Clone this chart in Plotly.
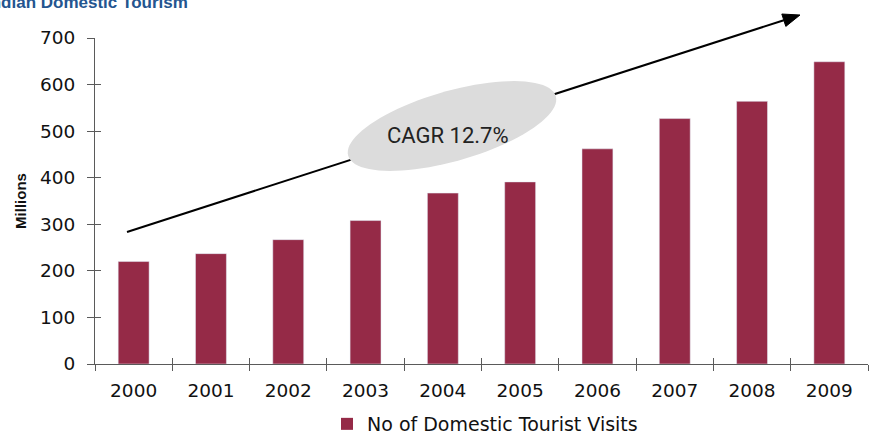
import numpy as np
import plotly.graph_objects as go

# Domestic tourist visits in India (millions)
years = ["2000", "2001", "2002", "2003", "2004", "2005", "2006", "2007", "2008", "2009"]
visits = [220, 237, 267, 308, 367, 391, 462, 527, 564, 649]
y_ticks = [0, 100, 200, 300, 400, 500, 600, 700]
series_name = "No of Domestic Tourist Visits"
cagr_label = "CAGR 12.7%"
title_text = "Indian Domestic Tourism"

W, H = 874, 434
ML, MR, MT, MB = 95, 6, 38, 70
PW, PH = W - ML - MR, H - MT - MB

BAR = "#952A47"
AXIS = "#5a5a5a"
FONT = "Liberation Sans, Arial, sans-serif"
WIDE = "DejaVu Sans, Liberation Sans, sans-serif"


def px(x):
    return (x - ML) / PW


def py(y):
    return 1 - (y - MT) / PH


fig = go.Figure()
fig.add_trace(go.Bar(
    x=years, y=visits, name=series_name, marker_color=BAR,
    marker_line_width=0, width=0.4, showlegend=True,
))
# companion trace for the second (inside-tick) axis pair
fig.add_trace(go.Bar(
    x=years, y=visits, xaxis="x2", yaxis="y2", marker_color="rgba(0,0,0,0)",
    width=0.4, showlegend=False, hoverinfo="skip",
))

axis_common = dict(showgrid=False, zeroline=False, tickcolor=AXIS, tickwidth=1,
                   automargin=False)

fig.update_layout(
    width=W, height=H,
    margin=dict(l=ML, r=MR, t=MT, b=MB, autoexpand=False),
    paper_bgcolor="white", plot_bgcolor="white",
    font=dict(family=WIDE, size=17, color="#111"),
    bargap=0.6,
    xaxis=dict(
        type="category", showline=True, linecolor=AXIS, linewidth=1,
        ticks="outside", ticklen=6, tickson="boundaries",
        ticklabelstandoff=10, tickfont=dict(family=WIDE, size=18.5, color="#111"),
        **axis_common,
    ),
    yaxis=dict(
        range=[0, 700], tickvals=y_ticks, showline=True, linecolor=AXIS,
        linewidth=1, ticks="outside", ticklen=7, ticklabelstandoff=8,
        tickfont=dict(family=WIDE, size=18.5, color="#111"),
        title=dict(text="<b>Millions</b>", font=dict(family=FONT, size=15, color="#111"),
                   standoff=9),
        **axis_common,
    ),
    xaxis2=dict(
        type="category", overlaying="x", anchor="y2", side="bottom",
        showline=False, ticks="inside", ticklen=6, tickson="boundaries",
        showticklabels=False, **axis_common,
    ),
    yaxis2=dict(
        range=[0, 700], tickvals=y_ticks, overlaying="y", anchor="x2", side="left",
        showline=False, ticks="inside", ticklen=6, showticklabels=False,
        **axis_common,
    ),
    legend=dict(
        orientation="h", x=px(327), xanchor="left", y=py(424), yanchor="middle",
        font=dict(family=WIDE, size=19, color="#111"), bgcolor="rgba(0,0,0,0)",
        itemwidth=30, borderwidth=0,
    ),
)

# growth arrow shaft (drawn first so the ellipse sits over it)
x0, y0, x1, y1 = 127, 232, 800, 15
ang = np.arctan2(y1 - y0, x1 - x0)
head_len, head_half = 17, 6.5
bx, by = x1 - head_len * np.cos(ang), y1 - head_len * np.sin(ang)
fig.add_shape(type="line", xref="paper", yref="paper",
              x0=px(x0), y0=py(y0), x1=px(bx), y1=py(by),
              line=dict(color="black", width=2), layer="above")
nx, ny = -np.sin(ang), np.cos(ang)
head = [(x1, y1), (bx + nx * head_half, by + ny * head_half), (bx - nx * head_half, by - ny * head_half)]
head_path = "M " + " L ".join(f"{px(a):.5f},{py(b):.5f}" for a, b in head) + " Z"
fig.add_shape(type="path", xref="paper", yref="paper", path=head_path,
              fillcolor="black", line=dict(color="black", width=1), layer="above")

# tilted ellipse behind the CAGR label
cx, cy, ra, rb, rot = 452, 126, 108, 35, np.deg2rad(-16)
t = np.linspace(0, 2 * np.pi, 90, endpoint=False)
ex = cx + ra * np.cos(t) * np.cos(rot) - rb * np.sin(t) * np.sin(rot)
ey = cy + ra * np.cos(t) * np.sin(rot) + rb * np.sin(t) * np.cos(rot)
ell_path = "M " + " L ".join(f"{px(a):.5f},{py(b):.5f}" for a, b in zip(ex, ey)) + " Z"
fig.add_shape(type="path", xref="paper", yref="paper", path=ell_path,
              fillcolor="#dcdcdc", line=dict(width=0), layer="above")

fig.add_annotation(text=cagr_label, xref="paper", yref="paper",
                   x=px(448), y=py(121), showarrow=False,
                   font=dict(family="Roboto, sans-serif", size=22, color="#222"))

# chart heading, running off the top-left edge
fig.add_annotation(text="<b>" + title_text + "</b>", xref="paper", yref="paper",
                   x=px(-16), y=py(14), xanchor="left", yanchor="bottom",
                   showarrow=False,
                   font=dict(family=FONT, size=17, color="#24558f"))

fig.write_html("out.html")
